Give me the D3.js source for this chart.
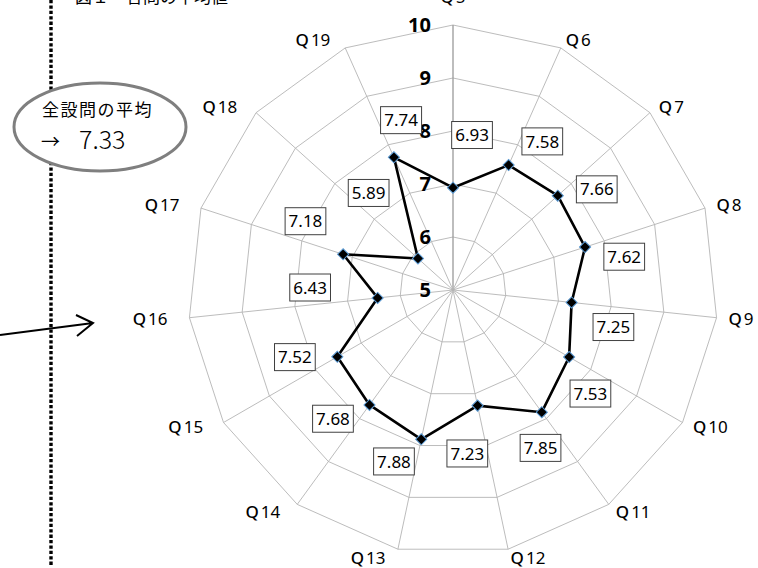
<!DOCTYPE html>
<meta charset="utf-8">
<style>
    body { margin: 0; background: #fff; }
    text { font-family: "Noto Sans", "Noto Sans CJK JP", sans-serif; fill: #000; }
    .grid { fill: none; stroke: #b4b4b4; stroke-width: 0.9px; }
    .spoke { stroke: #b4b4b4; stroke-width: 0.9px; }
    .tick { font-size: 20px; font-weight: bold; }
    .cat { font-size: 17px; }
    .val { font-size: 17px; }
    .jp { font-family: "Noto Sans CJK JP", sans-serif; }
</style>
<body>
<script src="https://cdnjs.cloudflare.com/ajax/libs/d3/7.8.5/d3.min.js"></script>
<script>
    // --- data ---
    var categories = ["Q5", "Q6", "Q7", "Q8", "Q9", "Q10", "Q11", "Q12", "Q13", "Q14", "Q15", "Q16", "Q17", "Q18", "Q19"];
    var values = [6.93, 7.58, 7.66, 7.62, 7.25, 7.53, 7.85, 7.23, 7.88, 7.68, 7.52, 6.43, 7.18, 5.89, 7.74];
    var ticks = [5, 6, 7, 8, 9, 10];

    var W = 758, H = 568;
    var cx = 453, cy = 290, R = 265;

    var svg = d3.select("body").append("svg").attr("width", W).attr("height", H);

    var r = d3.scaleLinear().domain([5, 10]).range([0, R]);
    var ang = d3.scaleLinear().domain([0, categories.length]).range([0, 2 * Math.PI]);

    var g = svg.append("g").attr("transform", "translate(" + cx + "," + cy + ")");

    // rings
    var ring = d3.lineRadial().angle((d, i) => ang(i)).radius(d => r(d)).curve(d3.curveLinearClosed);
    g.selectAll(".grid").data(ticks.slice(1)).enter().append("path")
        .attr("class", "grid")
        .attr("d", t => ring(categories.map(() => t)));

    // spokes
    g.selectAll(".spoke").data(categories).enter().append("line")
        .attr("class", "spoke")
        .attr("x2", (d, i) => R * Math.sin(ang(i)))
        .attr("y2", (d, i) => -R * Math.cos(ang(i)))
        .style("stroke", (d, i) => i === 0 ? "#9a9a9a" : null)
        .style("stroke-width", (d, i) => i === 0 ? 1.3 : null);

    // tick labels
    g.selectAll(".tick").data(ticks).enter().append("text")
        .attr("class", "tick")
        .attr("x", -22)
        .attr("y", t => -r(t))
        .attr("dy", "0.36em")
        .attr("text-anchor", "end")
        .text(t => t);

    // category labels
    categories.forEach(function(c, i) {
        var a = ang(i), sx = Math.sin(a), sy = -Math.cos(a);
        var x = R * sx + sx * 12 + (sx < -0.01 ? -10 : 0);
        var y = R * sy + sy * 9 + (sy < -0.99 ? -19 : 0);
        var t = g.append("text").attr("class", "cat")
            .attr("x", x).attr("y", y).attr("dy", "0.36em")
            .attr("text-anchor", Math.abs(sx) < 0.01 ? "middle" : (sx > 0 ? "start" : "end"));
        t.append("tspan").style("font-weight", 500).text(c.slice(0, 1));
        t.append("tspan").attr("dx", 2).text(c.slice(1));
    });

    // series line
    var line = d3.lineRadial().angle((d, i) => ang(i)).radius(d => r(d)).curve(d3.curveLinearClosed);
    g.append("path").attr("d", line(values))
        .attr("fill", "none").attr("stroke", "#000").attr("stroke-width", 2.6)
        .attr("stroke-linejoin", "round");

    // markers
    g.selectAll(".pt").data(values).enter().append("path")
        .attr("class", "pt")
        .attr("d", d3.symbol(d3.symbolSquare, 62))
        .attr("transform", (d, i) => "translate(" + (r(d) * Math.sin(ang(i))) + "," + (-r(d) * Math.cos(ang(i))) + ") rotate(45)")
        .attr("fill", "#000").attr("stroke", "#5b9bd5").attr("stroke-width", 1);

    // value labels in boxes
    var off = 7 * Math.PI / 180;
    values.forEach(function(v, i) {
        var a = ang(i) + off, lr = 0.5 * r(v) + 105;
        var x = lr * Math.sin(a), y = -lr * Math.cos(a);
        var lg = g.append("g").attr("transform", "translate(" + x + "," + y + ")");
        var rect = lg.append("rect").attr("fill", "#fff").attr("stroke", "#404040").attr("stroke-width", 1);
        var t = lg.append("text").attr("class", "val").attr("text-anchor", "middle").attr("dy", "0.36em")
            .text(d3.format(".2f")(v));
        var b = t.node().getBBox();
        var bw = b.width + 7, bh = 27;
        rect.attr("x", -bw / 2).attr("y", -bh / 2).attr("width", bw).attr("height", bh);
    });

    // title (cut off at top, as in the source)
    svg.append("text").attr("class", "jp").attr("x", 75).attr("y", 3)
        .style("font-size", "17px").text("図１　各問の平均値");

    // dotted separator
    svg.append("line").attr("x1", 51).attr("x2", 51).attr("y1", 0).attr("y2", 565)
        .attr("stroke", "#000").attr("stroke-width", 3.4).attr("stroke-dasharray", "3.3,2.1");

    // arrow
    svg.append("path").attr("d", "M0,335L93,323M76,315L93,323L77,336")
        .attr("fill", "none").attr("stroke", "#000").attr("stroke-width", 2);

    // average bubble
    svg.append("ellipse").attr("cx", 100).attr("cy", 127).attr("rx", 86).attr("ry", 44)
        .attr("fill", "#fff").attr("stroke", "#7f7f7f").attr("stroke-width", 3);
    svg.append("text").attr("class", "jp").attr("x", 42).attr("y", 110).attr("dy", "0.36em")
        .style("font-size", "17px").style("letter-spacing", "1.5px").text("全設問の平均");
    var avgText = svg.append("text").attr("class", "jp").attr("x", 41).attr("y", 143).attr("dy", "0.36em");
    avgText.append("tspan").style("font-size", "19px").text("→");
    avgText.append("tspan").attr("x", 79).style("font-size", "25px").style("font-weight", 300)
        .text(d3.format(".2f")(d3.mean(values)));
</script>
</body>
